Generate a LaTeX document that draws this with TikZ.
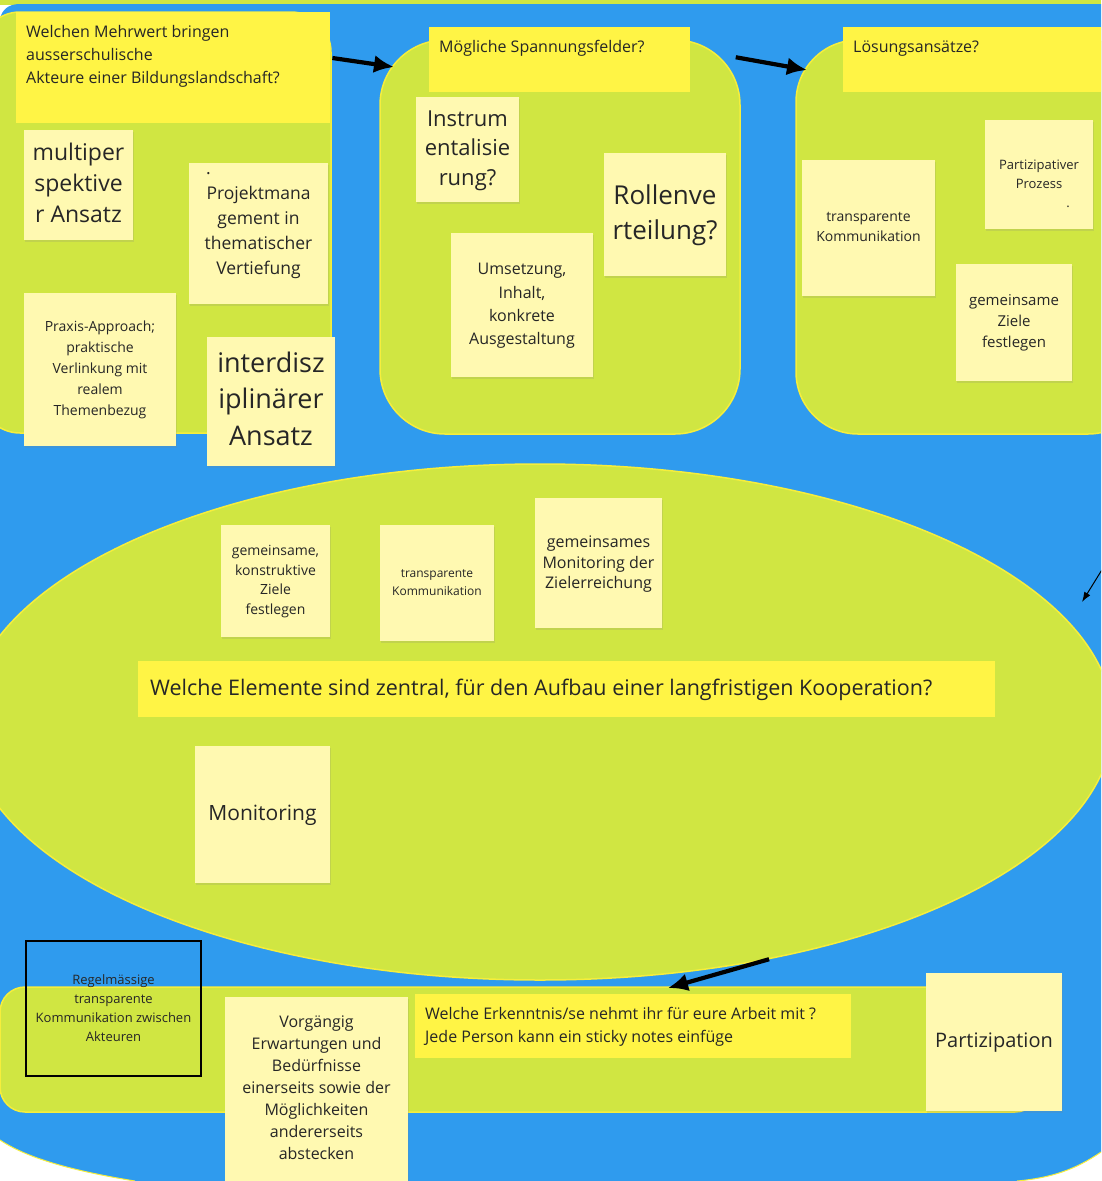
\documentclass[tikz,border=0pt]{standalone}
\usepackage{fontspec}
\setmainfont{Open Sans}
\usetikzlibrary{arrows.meta, calc, shapes.geometric, shadows}

\definecolor{board}{RGB}{47,155,238}
\definecolor{leaf}{RGB}{208,230,66}
\definecolor{rim}{RGB}{246,238,60}
\definecolor{sun}{RGB}{255,244,69}
\definecolor{paper}{RGB}{255,249,177}
\definecolor{ink}{RGB}{38,38,38}
\newcommand{\fsz}[2]{\fontsize{#1}{#2}\selectfont}

\begin{document}
\begin{tikzpicture}[x=1pt, y=-1pt,
    grp/.style={draw=rim, line width=1.5, fill=leaf, inner sep=0},
    head/.style={fill=sun, inner sep=0, anchor=north west},
    note/.style={fill=paper, inner sep=0, drop shadow={shadow xshift=1pt, shadow yshift=-1.5pt, opacity=0.18}},
    txt/.style={text=ink, align=center, inner sep=0},
    htxt/.style={text=ink, align=left, inner sep=0, anchor=base west},
    bigarrow/.style={-{Latex[length=20pt, width=18pt]}, line width=4.2},
    thinarrow/.style={-{Latex[length=10pt, width=7pt]}, line width=1}
]
\useasboundingbox (0,0) rectangle (1101,1181);
\clip (0,0) rectangle (1101,1181);

% board
\fill[white] (0,0) rectangle (1101,1181);
\fill[leaf] (0,0) rectangle (1101,5);
\fill[board] (0,18) .. controls (3,9) and (8,5) .. (18,4) -- (1101,4) -- (1101,1152)
  .. controls (1075,1170) and (1050,1178) .. (1017,1181) -- (135,1181)
  .. controls (80,1172) and (30,1160) .. (0,1140) -- cycle;
\draw[rim, line width=1] (1101,1152) .. controls (1075,1170) and (1050,1178) .. (1017,1181);
\draw[rim, line width=1] (135,1181) .. controls (80,1172) and (30,1160) .. (0,1140);

% areas
\node[grp, rounded corners=40, minimum width=351, minimum height=421] (grp1) at (155.5,222.5) {};
\node[grp, rounded corners=65, minimum width=360, minimum height=394] (grp2) at (560,237) {};
\node[grp, rounded corners=62, minimum width=354, minimum height=394] (grp3) at (973,237) {};
\node[grp, ellipse, minimum width=1146, minimum height=516] (ell) at (540,722) {};
\node[grp, rounded corners=25, minimum width=1040, minimum height=125] (strip) at (520,1049.5) {};

% first area
\node[head, minimum width=314, minimum height=111] (head1) at (16,12) {};
\node[htxt, font=\fsz{16}{23}] (head1T) at (26,83) {Welchen Mehrwert bringen\\ausserschulische\\Akteure einer Bildungslandschaft?};
\node[note, minimum width=109, minimum height=110] (multi) at (78.5,185) {};
\node[txt, font=\fsz{23}{31}] (multiT) at (78.5,183) {multiper\\spektive\\r Ansatz};
\node[note, minimum width=139, minimum height=141] (projekt) at (258.5,233.5) {};
\node[txt, font=\fsz{17.5}{25}] (projektT) at (258.5,226) {\hspace*{-100pt}.\\Projektmana\\gement in\\thematischer\\Vertiefung};
\node[note, minimum width=152, minimum height=153] (praxis) at (100,369.5) {};
\node[txt, font=\fsz{14}{21}] (praxisT) at (100,370) {Praxis-Approach;\\praktische\\Verlinkung mit\\realem\\Themenbezug};
\node[note, minimum width=128, minimum height=129] (inter) at (271,401.5) {};
\node[txt, font=\fsz{27}{36.5}] (interT) at (271,398.5) {interdisz\\iplinärer\\Ansatz};

% second area
\node[head, minimum width=261, minimum height=65] (head2) at (429,27) {};
\node[htxt, font=\fsz{16}{23}] (head2T) at (439,52) {Mögliche Spannungsfelder?};
\node[note, minimum width=103, minimum height=105] (instr) at (467.5,149.5) {};
\node[txt, font=\fsz{22}{29.5}] (instrT) at (467.5,150.5) {Instrum\\entalisie\\rung?};
\node[note, minimum width=122, minimum height=123] (rolle) at (665,214.5) {};
\node[txt, font=\fsz{26}{35}] (rolleT) at (665,215.5) {Rollenve\\rteilung?};
\node[note, minimum width=142, minimum height=144] (umsetz) at (522,305) {};
\node[txt, font=\fsz{16}{23.3}] (umsetzT) at (522,306) {Umsetzung,\\Inhalt,\\konkrete\\Ausgestaltung};

% third area
\node[head, minimum width=280, minimum height=65] (head3) at (843,27) {};
\node[htxt, font=\fsz{16}{23}] (head3T) at (853,52) {Lösungsansätze?};
\node[note, minimum width=133, minimum height=136] (trans) at (868.5,228) {};
\node[txt, font=\fsz{14}{20}] (transT) at (868.5,227) {transparente\\Kommunikation};
\node[note, minimum width=108, minimum height=109] (partiz) at (1039,174.5) {};
\node[txt, font=\fsz{13}{19}] (partizT) at (1039,184) {Partizipativer\\Prozess\\\hspace*{58pt}.};
\node[note, minimum width=116, minimum height=117] (ziele) at (1014,322.5) {};
\node[txt, font=\fsz{15}{21}] (zieleT) at (1014,323) {gemeinsame\\Ziele\\festlegen};

% centre
\node[note, minimum width=109, minimum height=112] (konstr) at (275.5,581) {};
\node[txt, font=\fsz{14}{19.7}] (konstrT) at (275.5,581.5) {gemeinsame,\\konstruktive\\Ziele\\festlegen};
\node[note, minimum width=114, minimum height=116] (trans2) at (437,583) {};
\node[txt, font=\fsz{12}{18}] (trans2T) at (437,583) {transparente\\Kommunikation};
\node[note, minimum width=127, minimum height=130] (monziel) at (598.5,563) {};
\node[txt, font=\fsz{16}{20.5}] (monzielT) at (598.5,564.5) {gemeinsames\\Monitoring der\\Zielerreichung};
\node[head, minimum width=857, minimum height=56] (head4) at (138,661) {};
\node[htxt, font=\fsz{21.5}{26}] (head4T) at (150,695.5) {Welche Elemente sind zentral, für den Aufbau einer langfristigen Kooperation?};
\node[note, minimum width=135, minimum height=137] (monit) at (262.5,814.5) {};
\node[txt, font=\fsz{21}{26}] (monitT) at (262.5,815) {Monitoring};

% bottom strip
\node[txt, draw=black, line width=2.5, minimum width=175, minimum height=135, font=\fsz{13}{19}] (regel) at (113.5,1008.5) {Regelmässige\\transparente\\Kommunikation zwischen\\Akteuren};
\node[note, minimum width=183, minimum height=193] (vorg) at (316.5,1093.5) {};
\node[txt, font=\fsz{16}{22}] (vorgT) at (316.5,1088) {Vorgängig\\Erwartungen und\\Bedürfnisse\\einerseits sowie der\\Möglichkeiten\\andererseits\\abstecken};
\node[head, minimum width=436, minimum height=64] (head5) at (415,994) {};
\node[htxt, font=\fsz{16}{23}] (head5T) at (425,1042.5) {Welche Erkenntnis/se nehmt ihr für eure Arbeit mit ?\\Jede Person kann ein sticky notes einfüge};
\node[note, minimum width=136, minimum height=138] (partiz2) at (994,1042) {};
\node[txt, font=\fsz{20}{25}] (partiz2T) at (994,1043) {Partizipation};

% arrows
\coordinate (tip1) at (394,67);
\coordinate (tip2) at (807,70);
\coordinate (tip3) at (668,988);
\coordinate (from4) at (1108,560);
\coordinate (tip4) at (1082,602);
\draw[bigarrow] ($(head1.north east)+(2,46)$) -- (tip1);
\draw[bigarrow] ($(grp2.north east)+(-5,18)$) -- (tip2);
\draw[bigarrow] (ell.-46) -- (tip3);
\draw[thinarrow] (from4) -- (tip4);
\end{tikzpicture}
\end{document}
